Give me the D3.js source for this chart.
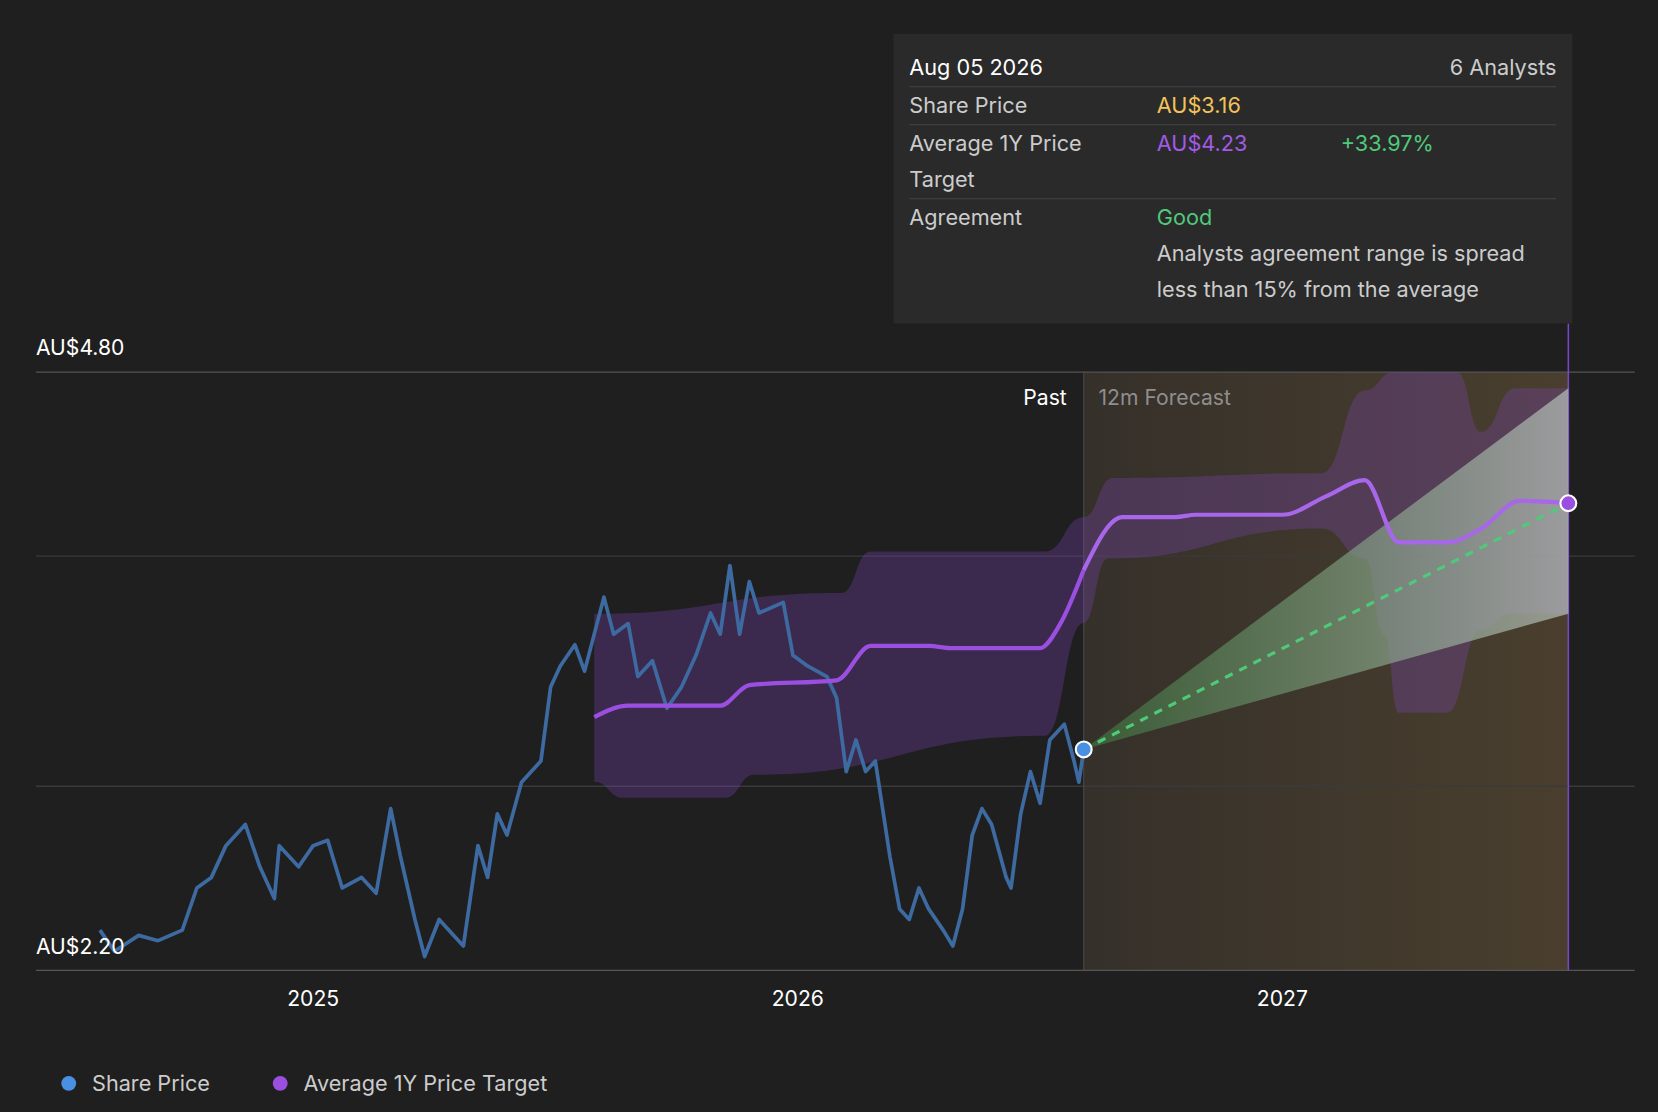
<!DOCTYPE html>
<html><head><meta charset="utf-8">
<script src="https://cdn.jsdelivr.net/npm/d3@7/dist/d3.min.js"></script>
<style>html,body{margin:0;background:#1f1f1f;}svg{display:block;font-family:Inter,"Noto Sans",sans-serif;}</style>
</head><body>
<script>
const priceDates=[2024.56,2024.59,2024.64,2024.68,2024.73,2024.76,2024.79,2024.82,2024.86,2024.89,2024.92,2024.93,2024.97,2025.00,2025.03,2025.06,2025.10,2025.13,2025.16,2025.18,2025.21,2025.23,2025.26,2025.29,2025.31,2025.34,2025.36,2025.38,2025.40,2025.43,2025.47,2025.49,2025.51,2025.54,2025.56,2025.60,2025.62,2025.65,2025.67,2025.70,2025.73,2025.76,2025.79,2025.82,2025.84,2025.86,2025.88,2025.90,2025.92,2025.97,2025.99,2026.02,2026.06,2026.08,2026.10,2026.12,2026.14,2026.16,2026.19,2026.21,2026.23,2026.25,2026.27,2026.30,2026.32,2026.34,2026.36,2026.38,2026.40,2026.43,2026.44,2026.46,2026.48,2026.50,2026.52,2026.55,2026.57,2026.58,2026.59];
const priceValues=[2.375,2.283,2.352,2.329,2.375,2.558,2.604,2.742,2.834,2.650,2.512,2.742,2.650,2.742,2.765,2.558,2.604,2.535,2.903,2.696,2.421,2.260,2.421,2.352,2.306,2.742,2.604,2.880,2.788,3.018,3.110,3.431,3.523,3.615,3.500,3.822,3.661,3.707,3.477,3.546,3.339,3.431,3.569,3.753,3.661,3.959,3.661,3.890,3.753,3.799,3.569,3.523,3.477,3.385,3.064,3.201,3.064,3.110,2.696,2.467,2.421,2.558,2.467,2.375,2.306,2.467,2.788,2.903,2.834,2.604,2.558,2.880,3.064,2.926,3.201,3.270,3.110,3.018,3.16];
const targetDates=[2025.58,2025.65,2025.84,2025.90,2026.08,2026.15,2026.27,2026.32,2026.50,2026.54,2026.59,2026.67,2026.78,2026.82,2027.00,2027.09,2027.17,2027.24,2027.34,2027.41,2027.49,2027.59];
const targetValues=[3.30,3.35,3.35,3.44,3.46,3.61,3.61,3.60,3.60,3.70,3.94,4.17,4.17,4.18,4.18,4.26,4.33,4.06,4.06,4.12,4.24,4.23];
const highDates=[2025.58,2026.09,2026.15,2026.51,2026.59,2026.65,2027.08,2027.17,2027.23,2027.36,2027.41,2027.48,2027.59];
const highValues=[3.75,3.84,4.02,4.02,4.17,4.34,4.36,4.72,4.80,4.80,4.54,4.73,4.73];
const lowDates=[2025.58,2025.64,2025.85,2025.91,2026.51,2026.59,2026.64,2027.08,2027.17,2027.21,2027.24,2027.34,2027.41,2027.47,2027.59];
const lowValues=[3.02,2.95,2.95,3.05,3.22,3.71,3.99,4.12,3.99,3.66,3.32,3.32,3.68,3.75,3.75];
const yTicks=[2.2,3.0,4.0,4.8];
const xTicks=[2025,2026,2027];
const today=2026.59, endDate=2027.59, lastPrice=3.16, endTarget=4.23, coneHigh=4.73, coneLow=3.75;

const W=1568,H=1052;
const svg=d3.select("body").append("svg").attr("width",1658).attr("height",1112).attr("viewBox",`0 0 ${W} ${H}`).attr("preserveAspectRatio","none");
svg.append("rect").attr("width",W).attr("height",H).attr("fill","#1f1f1f");
const x=d3.scaleLinear().domain([2024.428,2027.727]).range([34,1546]);
const y=d3.scaleLinear().domain([2.2,4.8]).range([918,352]);
const defs=svg.append("defs");
const g1=defs.append("linearGradient").attr("id","fc");
g1.append("stop").attr("offset","0").attr("stop-color","#35302a");
g1.append("stop").attr("offset","1").attr("stop-color","#4a3f2e");
const g2=defs.append("linearGradient").attr("id","cone");
g2.append("stop").attr("offset","0").attr("stop-color","#3f7a3f").attr("stop-opacity",0.6);
g2.append("stop").attr("offset","1").attr("stop-color","#b8c2bb").attr("stop-opacity",0.7);

svg.append("rect").attr("x",x(today)).attr("y",y(4.8)).attr("width",x(endDate)-x(today)).attr("height",y(2.2)-y(4.8)).attr("fill","url(#fc)");
yTicks.forEach(t=>svg.append("line").attr("x1",34).attr("x2",1546).attr("y1",y(t)).attr("y2",y(t)).attr("stroke",t==4.8||t==2.2?"#555":"#3a3a3a").attr("stroke-width",1.3));
svg.append("line").attr("x1",x(today)).attr("x2",x(today)).attr("y1",y(4.8)).attr("y2",y(2.2)).attr("stroke","#4a4a4a");
svg.append("line").attr("x1",x(endDate)).attr("x2",x(endDate)).attr("y1",306).attr("y2",y(2.2)).attr("stroke","#7a46c8").attr("stroke-width",1.5);
const hi=highDates.map((d,i)=>[d,highValues[i]]), lo=lowDates.map((d,i)=>[d,lowValues[i]]);
const bl=d3.line().x(d=>x(d[0])).y(d=>y(d[1])).curve(d3.curveBumpX);
const topD=bl(hi), botD=bl(lo.slice().reverse());
svg.append("path").attr("d",topD+"L"+botD.slice(1)+"Z").attr("fill","#7d45b8").attr("opacity",0.3);
svg.append("path").attr("d",d3.line()([[x(today),y(lastPrice)],[x(endDate),y(coneHigh)],[x(endDate),y(coneLow)]])).attr("fill","url(#cone)");
svg.append("path").datum(priceDates.map((d,i)=>[d,priceValues[i]])).attr("d",d3.line().x(d=>x(d[0])).y(d=>y(d[1]))).attr("fill","none").attr("stroke","#3d6aa0").attr("stroke-width",3.5).attr("stroke-linejoin","round");
const tp=targetDates.map((d,i)=>[d,targetValues[i]]);
const tl=d3.line().x(d=>x(d[0])).y(d=>y(d[1])).curve(d3.curveMonotoneX);
svg.append("path").datum(tp.filter(d=>d[0]<=today+0.001)).attr("d",tl).attr("fill","none").attr("stroke","#9b4fe0").attr("stroke-width",4);
svg.append("path").datum(tp.filter(d=>d[0]>=today-0.001)).attr("d",tl).attr("fill","none").attr("stroke","#a866ea").attr("stroke-width",4);
svg.append("line").attr("x1",x(today)).attr("y1",y(lastPrice)).attr("x2",x(endDate)).attr("y2",y(endTarget)).attr("stroke","#4fc97a").attr("stroke-width",3).attr("stroke-dasharray","8,7");
svg.append("circle").attr("cx",x(today)).attr("cy",y(lastPrice)).attr("r",7.5).attr("fill","#4a90e2").attr("stroke","#fff").attr("stroke-width",2);
svg.append("circle").attr("cx",x(endDate)).attr("cy",y(endTarget)).attr("r",7.5).attr("fill","#9b4fe0").attr("stroke","#fff").attr("stroke-width",2);
svg.append("text").attr("x",34).attr("y",336).text("AU$4.80").attr("fill","#fff").attr("font-size",20);
svg.append("text").attr("x",34).attr("y",903).text("AU$2.20").attr("fill","#fff").attr("font-size",20);
xTicks.forEach(t=>svg.append("text").attr("x",x(t)).attr("y",952).attr("text-anchor","middle").text(t).attr("fill","#fff").attr("font-size",20));
svg.append("text").attr("x",x(today)-16).attr("y",383).attr("text-anchor","end").text("Past").attr("fill","#fff").attr("font-size",20);
svg.append("text").attr("x",x(today)+14).attr("y",383).text("12m Forecast").attr("fill","#8e8e8e").attr("font-size",20);
svg.append("rect").attr("x",845).attr("y",32).attr("width",642).attr("height",274).attr("fill","#2a2a2a");
const T=(tx,ty,s,c)=>svg.append("text").attr("x",tx).attr("y",ty).text(s).attr("fill",c).attr("font-size",20.5);
T(860,71,"Aug 05 2026","#fff");
svg.append("text").attr("x",1472).attr("y",71).attr("text-anchor","end").text("6 Analysts").attr("fill","#ccc").attr("font-size",20.5);
[82,118,188].forEach(yy=>svg.append("line").attr("x1",860).attr("x2",1472).attr("y1",yy).attr("y2",yy).attr("stroke","#444"));
T(860,107,"Share Price","#ccc");T(1094,107,"AU$3.16","#f2c25b");
T(860,143,"Average 1Y Price","#ccc");T(860,177,"Target","#ccc");T(1094,143,"AU$4.23","#a25ae6");T(1268,143,"+33.97%","#4fc97a");
T(860,213,"Agreement","#ccc");T(1094,213,"Good","#4fc97a");
T(1094,247,"Analysts agreement range is spread","#ccc");T(1094,281,"less than 15% from the average","#ccc");
svg.append("circle").attr("cx",65).attr("cy",1025).attr("r",7).attr("fill","#4a90e2");
T(87,1032,"Share Price","#ccc");
svg.append("circle").attr("cx",265).attr("cy",1025).attr("r",7).attr("fill","#9b4fe0");
T(287,1032,"Average 1Y Price Target","#ccc");
</script>
</body></html>
